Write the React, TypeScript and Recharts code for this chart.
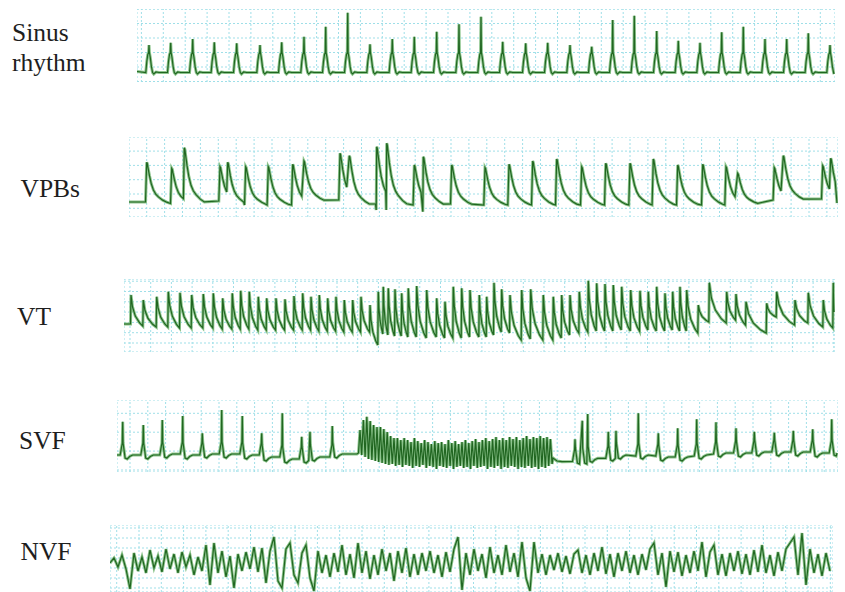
import React from "react";
import { LineChart, Line, XAxis, YAxis, ReferenceLine } from "recharts";

// ---------------- Sinus rhythm (t = samples from strip start, v = level) ----------------
const sinusBeatT = [12, 33.7, 55.7, 77.3, 99.7, 123, 144.7, 167, 188.7, 210.7, 233, 255.3, 277.3, 299.7, 322, 344, 365.7, 388.7, 410.7, 433, 454.7, 475.7, 497.3, 519.7, 541.3, 563, 584.7, 606.3, 628, 649.7, 671.3, 693];
const sinusBeatPeak = [37, 39.3, 43, 39.7, 38.7, 37, 39.7, 45.3, 55.3, 69.3, 37.7, 43, 45.3, 50.3, 57.7, 65.3, 40.3, 38.7, 39.3, 37, 35.3, 62, 66.3, 51, 41.3, 39.3, 49.7, 55.3, 43, 43, 48.7, 37];
const sinusBaseline = 9.5;

// ---------------- VPBs ----------------
const vpbBeatT = [17.7, 42.7, 55.3, 91, 98.7, 116.7, 139.3, 163.7, 175, 211, 220.3, 247.7, 257.7, 285.3, 294.3, 322.7, 356, 380, 403.7, 427.7, 452.7, 476.7, 501, 524.3, 548.7, 573.7, 597, 608.7, 645.3, 654.3, 693.7, 701.7];
const vpbBeatPeak = [54.7, 48.7, 69.3, 50.3, 54.7, 50.3, 50.3, 52.7, 56, 63.7, 61.3, 70.3, 73.7, 52, 60.3, 52, 49.3, 52.7, 56, 58, 50.3, 53.7, 53.7, 58, 52, 52.7, 50.3, 43.7, 49.3, 61.3, 51.3, 58.7];
const vpbBeatBase = [14, 13, 14, 13, 12, 12, 12, 12, 16, 14, 12, 13, 12, 12, 12, 12, 12, 12, 12, 12, 12, 12, 12, 12, 12, 12, 12, 13, 15, 17, 17, 14];
const vpbBeatPre: (number | null)[] = [15, 13.5, null, 16, null, 12, 12, 12, null, 17, null, 13, null, 12, null, 13, 12, 12, 12, 12, 12, 12, 12, 12, 12, 12, 12, null, 17, null, 18, null];
const vpbBeatDip: (number | null)[] = [null, null, null, null, null, null, null, null, null, null, null, 7, 7, null, 5.3, null, null, null, null, null, null, null, null, null, null, null, null, null, null, null, null, null];

// ---------------- VT ----------------
const vtBeatT = [7, 19.3, 32.7, 44.3, 56, 67.7, 79.3, 89.3, 98.7, 108.3, 116.7, 125.3, 134.3, 142.7, 152, 161, 170, 178.7, 187, 195.3, 203.7, 212, 220.3, 228.7, 237, 246, 254.3, 259.3, 264.3, 271, 277.7, 284.3, 292.7, 302.7, 312.7, 321, 329.3, 337.7, 346, 355.3, 362.7, 370, 377.7, 386, 397.7, 406.7, 419.3, 429.3, 437.7, 446, 455.3, 464.3, 472.7, 481, 489.3, 497.7, 506.7, 516, 524.3, 532.7, 541, 548.7, 556, 562.7, 574.3, 585.3, 602.7, 612, 622, 642.7, 652.7, 671, 684.3, 699.3, 709.3];
const vtBeatPeak = [57, 52, 55.3, 60.3, 59.3, 57, 58, 58.7, 53.7, 58.7, 61.3, 60.3, 55.3, 53.7, 53.7, 52.7, 56, 58.7, 55.3, 57, 53.7, 55.3, 52, 52, 55.3, 47, 60.3, 65.3, 63.7, 62.7, 58.7, 63.7, 66, 62, 53.7, 50.3, 65.3, 63.7, 62, 57, 55.3, 69.3, 62.7, 57, 62, 62.7, 57, 55.3, 57, 57, 60.3, 71.3, 68.7, 68, 67, 65.3, 62, 61.3, 60.3, 65.3, 58.7, 60.3, 65.3, 62, 47, 69.3, 60.3, 58, 50.3, 48.7, 60.3, 52, 59.3, 52, 69.3];
const vtBeatTrough = [28, 26, 25, 25, 24, 24, 24, 24, 23, 23, 23, 23, 22, 22, 22, 22, 22, 22, 22, 21, 21, 21, 20, 20, 20, 20, 7, 18, 17, 16, 16, 15, 15, 14, 15, 14, 14, 14, 15, 15, 15, 17, 20, 19, 12, 13, 12, 12, 14, 17, 19, 20, 21, 21, 21, 22, 21, 21, 22, 21, 21, 22, 21, 21, 19, 30, 29, 32, 27, 19, 35, 27, 29, 25, 24];

// ---------------- SVF ----------------
const svfPreT = [5.7, 26.3, 45.3, 65.7, 85.3, 104.7, 125.3, 144.7, 165.3, 184.7, 193, 215.3];
const svfPrePeak = [50.3, 47, 52, 56, 38.7, 62, 56, 38.7, 58.7, 35.3, 40.3, 46];
const svfPreBase = [17, 17, 18, 17, 18, 18, 17, 15, 13, 13, 15, 18];
const svfPrePre: (number | null)[] = [17, 17, 17, 18, 17, 18, 18, 17, 15, 13, null, 15];
const svfFlutterStart = 243;
const svfFlutterPeriod = 3.4;
const svfFlutterPeak = [42, 52, 55.3, 51, 47, 45, 45, 43, 40, 36, 34, 34, 32, 34, 32, 30, 34, 31, 29, 32, 30, 28, 31, 29, 30, 28, 32, 29, 31, 28, 30, 32, 29, 31, 33, 30, 32, 34, 31, 33, 35, 32, 34, 32, 35, 33, 35, 32, 34, 36, 33, 35, 34, 36, 34, 35, 33];
const svfFlutterTrough = [17, 15, 13, 12, 11, 10, 9, 8, 7, 8, 6, 7, 5, 7, 6, 4, 6, 5, 7, 4, 6, 5, 3, 6, 5, 4, 6, 3, 5, 6, 4, 5, 3, 6, 4, 5, 6, 3, 5, 4, 6, 3, 5, 4, 6, 5, 3, 5, 4, 6, 4, 5, 3, 5, 4, 6, 8];
const svfPostT = [458, 465.3, 470.7, 491.3, 499, 521.3, 541.3, 560.7, 579.7, 599, 619, 637.3, 657.3, 676.3, 695.7, 714.7];
const svfPostPeak = [32.7, 51.3, 58, 40.3, 41.3, 58.7, 38.7, 43.7, 52.7, 49.7, 43.7, 40.3, 39.3, 41.3, 42.7, 52.7];
const svfPostBase = [12, 12, 13.7, 15, 17, 17, 15, 15, 17, 19, 19, 20, 20, 20, 19, 20];
const svfPostPre: (number | null)[] = [10.5, null, null, 13.7, null, 16, 16, 15, 16, 18, 19, 19, 20, 20, 20, 19];

// ---------------- NVF (one sample every 4 units, deviation from centre level) ----------------
const nvfSampleStep = 4;
const nvfCentre = 29;
const nvfDeviation = [
  0, 5, -4, 8, -6, -26, 10, -8, 6, -10, 13, -5, 7, -9, 14, -6, 9, -10, 11, -4,
  8, -12, 6, -8, 18, -22, 20, -10, 12, -14, 7, -25, 9, -8, 11, -6, 16, -9, 15, -20,
  12, 26, -18, -25, 14, 20, -12, -20, 10, 18, -15, -28, 12, -10, 8, -14, 10, -9, 18, -12,
  9, -15, 20, -10, 12, -16, 8, -12, 14, -8, 10, -18, 12, -10, 15, -14, 9, -12, 10, -8,
  12, -10, 8, -14, 11, -9, 14, 26, -27, 10, -12, 14, -8, 9, -15, 16, -10, 8, -12, 18,
  -9, 10, -14, 21, -15, -28, 21, -10, 9, -12, 8, -7, 10, -9, 7, -11, 9, 13, -10, 8,
  -12, 10, -8, 16, -11, 9, -14, 10, -8, 12, -10, 8, -12, 9, -7, 14, 20, -12, 10, -24,
  12, -9, 11, -13, 8, -10, 12, -8, 21, -14, 11, 18, -12, 9, -13, 10, -8, 12, -11, 9,
  -12, 13, -9, 18, -10, 8, -13, 11, -8, 14, 20, 26, -12, 30, -22, 14, -10, 9, -13, 10,
  -8,
];

// ---------------- beat shape templates [dt, fraction of peak, absolute offset] ----------------
const sinusShape = [[-3.2, 0, 0], [-2.2, 0, 11], [-1.2, 0, 18], [-0.4, 0, 20], [0, 1, 0], [0.4, 0, 20], [1.3, 0, 15], [2.4, 0, 6], [3.6, 0, 0], [4.8, 0, -1.5], [7, 0, 0.5], [10, 0, 0]];
const vpbShape = [[-1.2, 0, 0], [0, 1, 0], [0.6, 0.97, 0], [1.2, 0.88, 0], [2.7, 0.68, 0], [4.5, 0.48, 0], [6.7, 0.32, 0], [9, 0.22, 0], [11.7, 0.15, 0], [16, 0.07, 0], [20, 0.02, 0]];
const svfShape = [[-2.5, 0, 0], [-1.3, 0, 7], [-0.4, 0, 12], [0, 1, 0], [0.4, 0, 12], [1.2, 0, 6], [2.4, 0, -3], [4.5, 0, -4], [7, 0, -1.5], [10, 0, 0]];
const vtDecay = [[0.12, 0.62], [0.35, 0.32], [0.7, 0.1]];

type Pt = { t: number; v: number };

function spikes(
  ts: number[], peaks: number[], pres: (number | null)[], bases: number[], dips: (number | null)[] | null,
  shape: number[][], tStart: number, vStart: number, tEnd: number, vEnd: number,
): Pt[] {
  const pts: Pt[] = [{ t: tStart, v: vStart }];
  const push = (t: number, v: number) => { if (t > pts[pts.length - 1].t) pts.push({ t, v }); };
  for (let i = 0; i < ts.length; i++) {
    const p = peaks[i], b = bases[i], pre = pres[i];
    const nextStart = i + 1 < ts.length ? ts[i + 1] + (pres[i + 1] == null ? -0.6 : shape[0][0]) : tEnd;
    for (const [dt, f, a] of shape) {
      const t = ts[i] + dt;
      if (dt < 0) {
        if (pre == null) continue;
        push(t, pre + f * (p - pre) + a);
      } else if (dt === 0) {
        if (dips && dips[i] != null) push(t - 0.5, dips[i] as number);
        push(t, p);
      } else {
        if (t >= nextStart) break;
        push(t, b + f * (p - b) + a);
      }
    }
  }
  push(tEnd, vEnd);
  return pts;
}

function sawtooth(ts: number[], peaks: number[], troughs: number[], vStart: number, tEnd: number, vEnd: number): Pt[] {
  const pts: Pt[] = [{ t: 0, v: vStart }];
  for (let i = 0; i < ts.length; i++) {
    pts.push({ t: ts[i] - 0.5, v: troughs[i] });
    pts.push({ t: ts[i], v: peaks[i] });
    const last = i + 1 >= ts.length;
    const g = (last ? tEnd : ts[i + 1]) - ts[i];
    const tr = last ? vEnd : troughs[i + 1];
    for (const [f, k] of vtDecay) pts.push({ t: ts[i] + f * g, v: tr + k * (peaks[i] - tr) });
  }
  pts.push({ t: tEnd, v: vEnd });
  return pts;
}

const sinusBase = sinusBeatT.map(() => sinusBaseline);
const sinusData = spikes(sinusBeatT, sinusBeatPeak, sinusBase, sinusBase, null, sinusShape, 0, 10.5, 697, 8);
const vpbData = spikes(vpbBeatT, vpbBeatPeak, vpbBeatPre, vpbBeatBase, vpbBeatDip, vpbShape, 0, 15, 708, 14);
const vtData = sawtooth(vtBeatT, vtBeatPeak, vtBeatTrough, 28, 710, 40);

const svfFlutter: Pt[] = [{ t: svfFlutterStart - 1.5, v: 19 }];
svfFlutterPeak.forEach((p, i) => {
  const t = svfFlutterStart + i * svfFlutterPeriod;
  svfFlutter.push({ t, v: p });
  svfFlutter.push({ t: t + svfFlutterPeriod / 2, v: svfFlutterTrough[i] });
});
const svfData = [
  ...spikes(svfPreT, svfPrePeak, svfPrePre, svfPreBase, null, svfShape, 0, 17, 240, 18),
  ...svfFlutter,
  { t: 436, v: 14 }, { t: 440, v: 11 },
  ...spikes(svfPostT, svfPostPeak, svfPostPre, svfPostBase, null, svfShape, 445, 10.3, 720, 19),
];
const nvfData = nvfDeviation.map((d, i) => ({ t: i * nvfSampleStep, v: nvfCentre + d }));

// ---------------- layout ----------------
function gridTicks(first: number, step: number, max: number) {
  const out: number[] = [];
  let s = first;
  while (s - step >= 0) s -= step;
  for (let v = s; v <= max + 0.01; v += step) out.push(Math.round(v * 100) / 100);
  return out;
}

type StripProps = {
  left: number; top: number; width: number; height: number; data: Pt[];
  xFirst: number; xStep: number; yFirst: number; yStep: number;
};

const GRID = "#9fdfe8";

function Strip({ left, top, width, height, data, xFirst, xStep, yFirst, yStep }: StripProps) {
  const xt = gridTicks(xFirst, xStep, width);
  const yt = gridTicks(yFirst, yStep, height);
  return (
    <div style={{ position: "absolute", left, top, width, height }}>
      <LineChart width={width} height={height} data={data} margin={{ top: 0, right: 0, bottom: 0, left: 0 }}>
        <XAxis type="number" dataKey="t" domain={[0, width]} hide allowDataOverflow />
        <YAxis type="number" domain={[0, height]} hide allowDataOverflow />
        <ReferenceLine x={0} stroke={GRID} strokeDasharray="2 2" ifOverflow="visible" />
        <ReferenceLine x={width} stroke={GRID} strokeDasharray="2 2" ifOverflow="visible" />
        <ReferenceLine y={0} stroke={GRID} strokeDasharray="2 2" ifOverflow="visible" />
        <ReferenceLine y={height} stroke={GRID} strokeDasharray="2 2" ifOverflow="visible" />
        {xt.map((v) => (
          <ReferenceLine key={"x" + v} x={v} stroke={GRID} strokeDasharray="2 2" ifOverflow="visible" />
        ))}
        {yt.map((v) => (
          <ReferenceLine key={"y" + v} y={v} stroke={GRID} strokeDasharray="2 2" ifOverflow="visible" />
        ))}
        <Line type="linear" dataKey="v" stroke="#8cc48c" strokeWidth={3} dot={false} isAnimationActive={false} />
        <Line type="linear" dataKey="v" stroke="#216621" strokeWidth={1.2} dot={false} isAnimationActive={false} />
      </LineChart>
    </div>
  );
}

const labelFont = "Liberation Serif, Times New Roman, DejaVu Serif, serif";

export default function App() {
  return (
    <div style={{ position: "absolute", left: 0, top: 0, width: 845, height: 592, background: "#fff", overflow: "hidden" }}>
      <Strip left={137} top={9} width={698} height={73} data={sinusData} xFirst={26.3} xStep={21.9} yFirst={0.5} yStep={14.5} />
      <Strip left={129} top={137} width={709} height={80} data={vpbData} xFirst={17.7} xStep={17.9} yFirst={8.7} yStep={14.3} />
      <Strip left={124} top={279} width={711} height={73} data={vtData} xFirst={6} xStep={20.7} yFirst={9} yStep={10.3} />
      <Strip left={117} top={400} width={721} height={72} data={svfData} xFirst={13} xStep={17.8} yFirst={2} yStep={18.9} />
      <Strip left={110} top={525} width={723} height={67} data={nvfData} xFirst={6.7} xStep={22.3} yFirst={4} yStep={10} />
      <svg width={845} height={592} style={{ position: "absolute", left: 0, top: 0, pointerEvents: "none" }}>
        <g fontFamily={labelFont} fontSize={25.5} fill="#1e1e1e">
          <text x={12} y={40.7}>Sinus</text>
          <text x={12} y={70.7}>rhythm</text>
          <text x={20.5} y={196.7}>VPBs</text>
          <text x={17} y={325}>VT</text>
          <text x={19} y={449}>SVF</text>
          <text x={20.5} y={560}>NVF</text>
        </g>
      </svg>
    </div>
  );
}
